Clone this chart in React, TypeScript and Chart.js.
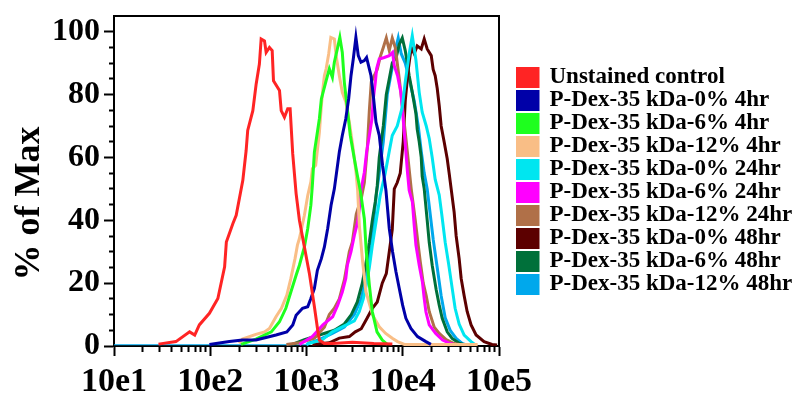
import React, { useEffect, useRef } from 'react';
import { Chart, registerables } from 'chart.js';

Chart.register(...registerables);

const FONT = 'Liberation Serif';

const seriesLabels = [
  'Unstained control',
  'P-Dex-35 kDa-0% 4hr',
  'P-Dex-35 kDa-6% 4hr',
  'P-Dex-35 kDa-12% 4hr',
  'P-Dex-35 kDa-0% 24hr',
  'P-Dex-35 kDa-6% 24hr',
  'P-Dex-35 kDa-12% 24hr',
  'P-Dex-35 kDa-0% 48hr',
  'P-Dex-35 kDa-6% 48hr',
  'P-Dex-35 kDa-12% 48hr',
];

const seriesColors = [
  '#FF2424',
  '#0000A8',
  '#1EFF1E',
  '#F9BE86',
  '#00E6F0',
  '#FF00FF',
  '#B07048',
  '#5C0000',
  '#00703A',
  '#00A8EC',
];

// Unstained control
const unstainedX = [29, 44, 61, 69, 77, 98, 120, 141, 147, 172, 186, 218, 236, 245, 277, 300, 324, 338, 366, 381, 412, 440, 454, 524, 546, 590, 638, 676, 719, 780, 844, 951, 1071, 1208, 1307, 1361, 1534, 1860, 3000, 5000, 7800];
const unstainedY = [0.6, 1.4, 4.5, 3.5, 6.7, 10.4, 15.1, 25.2, 33.1, 39, 41.6, 52.7, 62.2, 68.6, 74.9, 83.4, 89.7, 97.7, 97.1, 93.4, 95, 94, 84.4, 81.3, 74.9, 72.8, 75.5, 75.5, 61.2, 48.5, 40, 31.5, 23.1, 12.5, 5.1, 1.9, 0.8, 0.8, 1.2, 0.8, 0.6];

// 0% 4hr
const p0h4X = [98, 158, 216, 298, 380, 482, 625, 720, 780, 910, 1030, 1110, 1208, 1297, 1427, 1534, 1660, 1800, 1947, 2193, 2355, 2560, 2740, 2900, 3062, 3260, 3451, 3680, 3990, 4210, 4498, 4680, 4943, 5270, 5702, 6170, 6690, 7244, 7840, 8500, 9204, 9970, 10780, 12150, 14240, 17400, 19600];
const p0h4Y = [0.5, 1.4, 1.9, 1.9, 2.7, 3.5, 4.5, 6.7, 9.8, 12, 12.5, 15.1, 18.3, 24.1, 27.8, 31.5, 37.4, 44.8, 50, 61.7, 67, 72.3, 78.6, 86, 91.3, 98.2, 92.4, 90.3, 90.8, 91.8, 88.2, 86, 79.7, 71.2, 67, 57.5, 49.5, 37.4, 30, 23.6, 18.3, 13, 8.8, 5.6, 3, 1.4, 0.5];

// 6% 4hr
const p6h4X = [209, 298, 431, 524, 610, 688, 780, 844, 951, 1030, 1110, 1150, 1208, 1361, 1427, 1600, 1727, 1857, 1947, 2091, 2220, 2355, 2472, 2655, 2851, 3141, 3373, 3622, 3990, 4178, 4498, 4831, 5400, 6124, 6900];
const p6h4Y = [0.5, 2.2, 4.5, 7.7, 12, 17.2, 22.5, 25.7, 31.5, 37.4, 44.8, 51, 61.7, 72.3, 78.6, 84.4, 88.2, 85.5, 90.3, 94.5, 98.2, 93.4, 83.9, 75.5, 67, 59.6, 54.3, 49.5, 40.5, 30, 19.4, 10.9, 4.5, 1.9, 0.5];

// 12% 4hr
const p12h4X = [200, 216, 298, 366, 412, 482, 549, 625, 688, 760, 805, 844, 951, 1030, 1110, 1151, 1245, 1361, 1427, 1480, 1534, 1600, 1700, 1790, 1947, 2030, 2193, 2355, 2560, 2786, 3020, 3270, 3400, 3540, 3830, 4150, 4870, 5702, 6650, 7850, 8830, 10400, 60000];
const p12h4Y = [0.8, 2.2, 3.7, 4.5, 5.6, 9.3, 12, 16.2, 21.5, 27.8, 32.1, 34.2, 41.6, 47.9, 52.2, 56.4, 57.5, 68, 76.5, 81.8, 86, 88.2, 92.9, 98.2, 97.7, 92.4, 86, 80.7, 77.6, 71.2, 63.8, 55.3, 49.5, 38.4, 26.8, 17.2, 9.8, 6.1, 4, 2.4, 1.4, 0.5, 0.5];

// 0% 24hr
const p0h24X = [996, 1462, 1857, 2594, 3141, 3540, 3890, 4178, 4498, 4831, 5309, 5834, 6577, 7244, 7780, 8770, 9886, 10617, 11668, 12560, 13700, 14826, 15922, 17539, 18836, 20230, 21727, 23933, 25400, 27600, 30000, 32584, 35000, 38548, 43451, 51286, 56494];
const p0h24Y = [0.5, 2, 4.5, 6.7, 8, 11, 15, 19.4, 25, 32, 40, 48, 55, 62, 67, 70, 76, 84, 93, 98.7, 91, 80.7, 74.4, 70, 66, 60, 53, 48, 42, 33, 26, 18.5, 12, 7, 3.5, 1.4, 0.4];

// 6% 24hr
const p6h24X = [844, 1151, 1480, 1870, 2110, 2355, 2560, 2655, 2900, 3141, 3400, 3540, 3680, 3990, 4210, 4498, 4790, 4943, 5188, 5350, 5702, 6427, 7244, 7840, 8166, 8830, 9560, 9970, 10375, 10780, 11190, 11668, 12600, 13152, 13700, 14826, 16000, 16711, 17400, 18836, 22000, 25900, 30339, 34200];
const p6h24Y = [0.5, 3, 6.7, 9.3, 13, 17.2, 21.5, 25.7, 30, 35.2, 39.5, 43.7, 49.5, 55.3, 61.7, 67, 72.3, 78.6, 83.9, 88.2, 91.3, 91.8, 92.4, 93.4, 89.2, 86, 80.7, 74.4, 68, 61.7, 55.3, 49.5, 45.8, 38.4, 32.1, 25.7, 20.4, 15.1, 10.9, 6.7, 4, 1.9, 0.9, 0.5];

// 12% 24hr
const p12h24X = [618, 844, 1208, 1534, 1727, 1947, 2193, 2472, 2786, 2992, 3289, 3707, 3990, 4285, 4498, 4710, 5058, 5433, 5834, 6281, 6745, 7244, 7780, 8356, 9204, 10116, 11143, 12246, 13490, 14488, 15205, 16331, 17539, 18836, 21232, 23933, 28249, 34198, 38548];
const p12h24Y = [0.5, 1, 2.5, 6, 10, 12, 15, 21, 30, 33, 42, 47, 52, 63, 75, 84, 86, 88, 92, 95, 98, 94, 98, 95, 85, 74, 62, 50, 40, 32, 26.8, 20, 16, 11, 6, 4, 2, 0.8, 0.5];

// 0% 48hr
const p0h48X = [1151, 1727, 2193, 2786, 3214, 3707, 4285, 4831, 5433, 6124, 6745, 7244, 7780, 8166, 8770, 9419, 10116, 10617, 11402, 12246, 13152, 14125, 15560, 16711, 17947, 19770, 20701, 21727, 22803, 23933, 25061, 26915, 28973, 30339, 31842, 34198, 35892, 38548, 40458, 43451, 46666, 51286, 57810, 69984, 84723, 95499];
const p0h48Y = [0.5, 1, 2.5, 3, 4.5, 5.5, 9, 12, 14, 20, 23, 30, 37, 50, 52, 55, 65, 78, 88, 95, 93, 95.5, 94.5, 97.7, 94.5, 92.4, 88, 86, 82, 76.5, 70, 65, 59.6, 55, 50, 42.6, 35, 27.8, 21.5, 16, 11, 6.7, 3.5, 1.4, 0.5, 0.3];

// 6% 48hr
const p6h48X = [714, 951, 1361, 1947, 2472, 2924, 3373, 3802, 4178, 4498, 4831, 5188, 5433, 5702, 6281, 6745, 7244, 7780, 8570, 9204, 9886, 10617, 11143, 11668, 12560, 13700, 14125, 14826, 15560, 15922, 16711, 17947, 18836, 20230, 22233, 23933, 25704, 28973, 32584, 38548, 43451];
const p6h48Y = [0.5, 2, 3.5, 5, 7, 10, 14, 20, 27, 33, 40, 46, 51, 60, 70, 80, 85, 90, 92, 96, 98, 94, 90, 86, 80.7, 74, 69, 65, 60, 54, 50, 40, 33, 25.7, 18, 13, 8.8, 4.5, 2.4, 0.9, 0.4];

// 12% 48hr
const p12h48X = [10, 1000, 1071, 1361, 1857, 2472, 3141, 3707, 4178, 4710, 5309, 5702, 6281, 6902, 7603, 8356, 8974, 9638, 10617, 11668, 13152, 14488, 15560, 16711, 17947, 19275, 20701, 22803, 25061, 27606, 31117, 35892, 41400, 46666];
const p12h48Y = [0.4, 0.4, 1, 2, 4, 6, 10, 15, 22, 32, 48, 55, 65, 80, 87, 94, 98, 93, 90, 85, 78, 70, 62, 55, 50, 42, 34, 25, 16, 9, 5, 2.4, 0.8, 0.3];

const seriesX = [unstainedX, p0h4X, p6h4X, p12h4X, p0h24X, p6h24X, p12h24X, p0h48X, p6h48X, p12h48X];
const seriesY = [unstainedY, p0h4Y, p6h4Y, p12h4Y, p0h24Y, p6h24Y, p12h24Y, p0h48Y, p6h48Y, p12h48Y];

const xMajorTicks = [10, 100, 1000, 10000, 100000];
const xTickLabels = ['10e1', '10e2', '10e3', '10e4', '10e5'];
const xMinorMultipliers = [2, 3, 4, 5, 6, 7, 8, 9];
const yMajorStep = 20;
const yMinorStep = 5;
const yLabelMax = 100;
const yAxisMax = 105;
const yTitle = '% of Max     ';

function buildXTicks() {
  const t: { value: number; major: boolean }[] = [];
  xMajorTicks.forEach((m, i) => {
    t.push({ value: m, major: true });
    if (i < xMajorTicks.length - 1) xMinorMultipliers.forEach((k) => t.push({ value: k * m, major: false }));
  });
  return t;
}

function buildYTicks() {
  const t: { value: number }[] = [];
  for (let v = 0; v <= yAxisMax; v += yMinorStep) t.push({ value: v });
  return t;
}

function noPad(scale: any) {
  scale.paddingTop = 0;
  scale.paddingBottom = 0;
  scale.paddingLeft = 0;
  scale.paddingRight = 0;
}

export default function App() {
  const ref = useRef<HTMLCanvasElement | null>(null);

  useEffect(() => {
    if (!ref.current) return;
    const datasets = seriesLabels.map((label, i) => ({
      label,
      data: seriesX[i].map((x, j) => ({ x, y: seriesY[i][j] })),
      borderColor: seriesColors[i],
      backgroundColor: seriesColors[i],
      borderWidth: 3,
      pointRadius: 0,
      fill: false,
      tension: 0,
      segment: i === 9 ? { borderWidth: (c: any) => (c.p0DataIndex === 0 ? 1.2 : undefined) } : undefined,
    }));

    const chart = new Chart(ref.current, {
      type: 'line',
      data: { datasets },
      options: {
        animation: false,
        responsive: true,
        maintainAspectRatio: false,
        devicePixelRatio: 1,
        events: [],
        layout: { padding: { left: 0, top: 8, right: 2, bottom: 0 } },
        plugins: {
          tooltip: { enabled: false },
          legend: {
            position: 'right',
            align: 'center',
            fullSize: false,
            maxWidth: 280,
            labels: {
              boxWidth: 22,
              boxHeight: 18,
              padding: 0,
              color: '#000',
              font: { family: FONT, size: 23, weight: 'bold' },
            },
          },
        },
        scales: {
          x: {
            type: 'logarithmic',
            position: 'bottom',
            min: 10,
            max: 100000,
            afterBuildTicks: (axis: any) => {
              axis.ticks = buildXTicks();
            },
            afterFit: (scale: any) => {
              noPad(scale);
              scale.height = 53;
            },
            ticks: {
              autoSkip: false,
              maxRotation: 0,
              minRotation: 0,
              padding: 9.7,
              color: '#000',
              font: { family: FONT, size: 34, weight: 'bold', lineHeight: 1 },
              callback: (value: any) => {
                const i = xMajorTicks.indexOf(Number(value));
                return i >= 0 ? xTickLabels[i] : '';
              },
            },
            grid: {
              display: true,
              drawOnChartArea: false,
              drawTicks: true,
              tickLength: 10,
              tickColor: '#000',
              tickWidth: 2,
              tickBorderDash: (c: any) => (c.tick && xMajorTicks.includes(c.tick.value) ? [] : [5, 100]),
            },
            border: { display: true, color: '#000', width: 2 },
          },
          x2: {
            type: 'linear',
            position: 'top',
            min: 0,
            max: 1,
            afterFit: (scale: any) => {
              noPad(scale);
              scale.height = 0;
            },
            ticks: { display: false },
            grid: { display: false, drawTicks: false },
            border: { display: true, color: '#000', width: 2 },
          },
          y: {
            type: 'linear',
            position: 'left',
            min: 0,
            max: yAxisMax,
            afterBuildTicks: (axis: any) => {
              axis.ticks = buildYTicks();
            },
            afterFit: (scale: any) => {
              noPad(scale);
              scale.width = 106;
            },
            title: {
              display: true,
              text: yTitle,
              color: '#000',
              padding: { top: 0, bottom: 0 },
              font: { family: FONT, size: 36, weight: 'bold' },
            },
            ticks: {
              autoSkip: false,
              padding: 4,
              color: '#000',
              font: { family: FONT, size: 32, weight: 'bold', lineHeight: 1 },
              callback: (value: any) => {
                const v = Number(value);
                if (v > yLabelMax) return null;
                return v % yMajorStep === 0 ? String(v) : '';
              },
            },
            grid: {
              display: true,
              drawOnChartArea: false,
              drawTicks: true,
              tickLength: 10,
              tickWidth: 2,
              tickColor: (c: any) => (c.tick && c.tick.value > yLabelMax ? 'rgba(0,0,0,0)' : '#000'),
              tickBorderDash: (c: any) => (c.tick && c.tick.value % yMajorStep === 0 ? [] : [0, 5, 4, 100]),
            },
            border: { display: true, color: '#000', width: 2 },
          },
          y2: {
            type: 'linear',
            position: 'right',
            min: 0,
            max: 1,
            afterFit: (scale: any) => {
              noPad(scale);
              scale.width = 17;
            },
            ticks: { display: false },
            grid: {
              display: false,
              drawOnChartArea: false,
              drawTicks: false,
            },
            border: { display: true, color: '#000', width: 2 },
          },
        },
      } as any,
    });
    return () => chart.destroy();
  }, []);

  return (
    <div style={{ position: 'absolute', left: 8, top: 8, width: 790, height: 391 }}>
      <canvas ref={ref} />
    </div>
  );
}
